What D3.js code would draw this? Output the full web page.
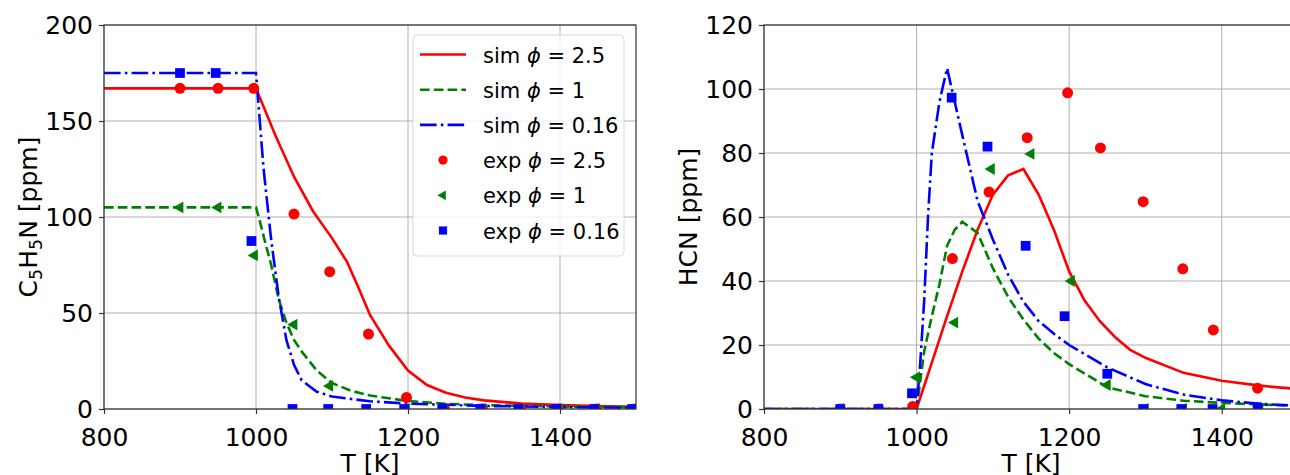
<!DOCTYPE html>
<html>
<head>
<meta charset="utf-8">
<script src="https://d3js.org/d3.v7.min.js"></script>
<style>
  body { margin: 0; background: #fff; }
  svg { font-family: "DejaVu Sans", sans-serif; }
</style>
</head>
<body>
<div id="chart"></div>
<script>
// ---- data: left panel (C5H5N) ----
const c5SimRedT  = [800, 1000, 1025, 1050, 1075, 1100, 1120, 1135, 1150, 1175, 1200, 1225, 1250, 1275, 1300, 1350, 1400, 1450, 1500];
const c5SimRed   = [167, 167, 143, 121, 103, 89, 76.5, 63, 49, 33, 20, 12.5, 8.5, 6, 4.5, 2.8, 2, 1.5, 1.2];
const c5SimGreenT = [800, 1000, 1005, 1010, 1020, 1030, 1040, 1050, 1060, 1080, 1100, 1125, 1150, 1200, 1250, 1300, 1400, 1500];
const c5SimGreen  = [105, 105, 98, 90, 75, 57, 45, 36, 30, 20, 13.5, 9.5, 7, 4.2, 2.7, 2, 1.3, 1];
const c5SimBlueT = [800, 1000, 1010, 1020, 1030, 1040, 1050, 1060, 1080, 1100, 1150, 1200, 1300, 1400, 1500];
const c5SimBlue  = [175, 175, 125, 88, 58, 36, 23, 15, 9, 6.5, 4, 2.8, 1.6, 1, 0.6];

const c5ExpRedT   = [900, 950, 997, 1050, 1097, 1148, 1198, 1248, 1298, 1348, 1398, 1448, 1498];
const c5ExpRed    = [167, 167, 167, 101.5, 71.5, 39, 6, 0, 0, 0, 0, 0, 0];
const c5ExpGreenT = [900, 950, 998, 1050, 1097, 1198, 1248, 1298, 1348, 1398, 1448, 1498];
const c5ExpGreen  = [105, 105, 80, 44, 12, 0, 0, 0, 0, 0, 0, 0];
const c5ExpBlueT  = [900, 947, 994, 1048, 1095, 1145, 1195, 1245, 1295, 1345, 1395, 1445, 1495];
const c5ExpBlue   = [175, 175, 87.5, 0, 0, 0, 0, 0, 0, 0, 0, 0, 0];

// ---- data: right panel (HCN) ----
const hcnSimRedT = [800, 1000, 1020, 1040, 1060, 1080, 1100, 1120, 1140, 1160, 1180, 1200, 1220, 1240, 1260, 1280, 1300, 1350, 1400, 1450, 1500];
const hcnSimRed  = [0, 0, 14.5, 29, 43, 56, 67, 73, 75, 67, 56, 43, 34, 27.5, 22.5, 18.5, 16, 11.3, 8.8, 7.3, 6.2];
const hcnSimGreenT = [800, 1000, 1005, 1010, 1020, 1030, 1040, 1050, 1060, 1080, 1100, 1120, 1140, 1160, 1180, 1200, 1250, 1300, 1350, 1400, 1450, 1500];
const hcnSimGreen  = [0, 0, 9, 18, 29, 39, 51, 56, 58.5, 55, 44, 35, 28, 22, 17.5, 14, 6.8, 4, 2.6, 1.9, 1.4, 1];
const hcnSimBlueT = [800, 1000, 1005, 1010, 1015, 1020, 1030, 1040, 1050, 1060, 1080, 1100, 1120, 1140, 1160, 1180, 1200, 1250, 1300, 1350, 1400, 1450, 1500];
const hcnSimBlue  = [0, 0, 15, 34, 60, 80, 96, 106.5, 96, 85.5, 65, 53, 42, 33.5, 27.5, 23.5, 20, 13, 7.8, 4.5, 2.7, 1.6, 1];

const hcnExpRedT   = [900, 950, 995, 1047, 1095, 1145, 1198, 1241, 1297, 1349, 1389, 1447];
const hcnExpRed    = [0, 0, 0.8, 47, 67.8, 84.8, 98.8, 81.6, 64.8, 43.8, 24.7, 6.5];
const hcnExpGreenT = [900, 950, 1000, 1050, 1098, 1150, 1203, 1250, 1300, 1350, 1400, 1450];
const hcnExpGreen  = [0, 0, 9.9, 27, 75, 79.7, 40, 7.5, 0, 0, 0, 0];
const hcnExpBlueT  = [900, 950, 994, 1046, 1093, 1143, 1194, 1250, 1297, 1347, 1388, 1447];
const hcnExpBlue   = [0, 0, 4.9, 97.3, 82, 51, 29, 11, 0, 0, 0, 0.5];

const xTicks = [800, 1000, 1200, 1400];
const c5Ticks = [0, 50, 100, 150, 200];
const hcnTicks = [0, 20, 40, 60, 80, 100, 120];
const legendLabels = [["sim", "2.5"], ["sim", "1"], ["sim", "0.16"], ["exp", "2.5"], ["exp", "1"], ["exp", "0.16"]];

const lw = 2.6;
const styles = [
  { color: "#ff0000", dash: null, symbol: d3.symbolCircle, size: 95, rot: 0 },
  { color: "#008000", dash: `${3.7 * lw},${1.6 * lw}`, symbol: d3.symbolTriangle, size: 60, rot: -90 },
  { color: "#0000ff", dash: `${6.4 * lw},${1.6 * lw},${1 * lw},${1.6 * lw}`, symbol: d3.symbolSquare, size: 95, rot: 0 }
];

const fs = 25;
const svg = d3.select("#chart").append("svg")
  .attr("width", 1290).attr("height", 475);

function zip(t, v) { return t.map((d, i) => [d, v[i]]); }

function panel(id, left, right, top, bottom, yMax, yTicks, sims, exps, ylabel, ylabelX) {
  const x = d3.scaleLinear().domain([800, 1500]).range([left, right]);
  const y = d3.scaleLinear().domain([0, yMax]).range([bottom, top]);

  svg.append("clipPath").attr("id", id)
    .append("rect").attr("x", left).attr("y", top)
    .attr("width", right - left).attr("height", bottom - top);

  // grid
  const grid = svg.append("g");
  grid.selectAll(".gx").data(xTicks).enter().append("line")
    .attr("x1", d => x(d)).attr("x2", d => x(d))
    .attr("y1", top).attr("y2", bottom)
    .attr("stroke", "#b0b0b0").attr("stroke-width", 1);
  grid.selectAll(".gy").data(yTicks).enter().append("line")
    .attr("x1", left).attr("x2", right)
    .attr("y1", d => y(d)).attr("y2", d => y(d))
    .attr("stroke", "#b0b0b0").attr("stroke-width", 1);

  const plot = svg.append("g").attr("clip-path", `url(#${id})`);
  const line = d3.line().x(d => x(d[0])).y(d => y(d[1]));

  sims.forEach((s, i) => {
    plot.append("path")
      .datum(s)
      .attr("d", line)
      .attr("fill", "none")
      .attr("stroke", styles[i].color)
      .attr("stroke-width", lw)
      .attr("stroke-dasharray", styles[i].dash);
  });

  exps.forEach((e, i) => {
    const st = styles[i];
    plot.selectAll(null).data(e).enter().append("path")
      .attr("d", d3.symbol().type(st.symbol).size(st.size))
      .attr("transform", d => `translate(${x(d[0])},${y(d[1])}) rotate(${st.rot})`)
      .attr("fill", st.color);
  });

  // frame
  svg.append("rect")
    .attr("x", left).attr("y", top)
    .attr("width", right - left).attr("height", bottom - top)
    .attr("fill", "none").attr("stroke", "#333").attr("stroke-width", 1.2);

  // axes
  const ax = svg.append("g")
    .attr("transform", `translate(0,${bottom})`)
    .call(d3.axisBottom(x).tickValues(xTicks).tickSize(5).tickPadding(14).tickFormat(d3.format("d")));
  const ay = svg.append("g")
    .attr("transform", `translate(${left},0)`)
    .call(d3.axisLeft(y).tickValues(yTicks).tickSize(5).tickPadding(6).tickFormat(d3.format("d")));
  [ax, ay].forEach(a => {
    a.select(".domain").remove();
    a.selectAll(".tick line").attr("stroke", "#333").attr("stroke-width", 1.2);
    a.selectAll("text").attr("font-size", fs).attr("font-family", "DejaVu Sans").attr("fill", "#000");
  });

  // x label
  svg.append("text")
    .attr("x", (left + right) / 2).attr("y", 472)
    .attr("text-anchor", "middle").attr("font-size", fs)
    .text("T [K]");

  // y label
  const yl = svg.append("text")
    .attr("transform", `translate(${ylabelX},${(top + bottom) / 2}) rotate(-90)`)
    .attr("text-anchor", "middle").attr("font-size", fs);
  ylabel(yl);

  return { x, y };
}

panel("clipL", 104, 636, 25, 409, 200, c5Ticks,
  [zip(c5SimRedT, c5SimRed), zip(c5SimGreenT, c5SimGreen), zip(c5SimBlueT, c5SimBlue)],
  [zip(c5ExpRedT, c5ExpRed), zip(c5ExpGreenT, c5ExpGreen), zip(c5ExpBlueT, c5ExpBlue)],
  t => {
    t.append("tspan").text("C");
    t.append("tspan").attr("font-size", fs * 0.7).attr("dy", 5).text("5");
    t.append("tspan").attr("dy", -5).text("H");
    t.append("tspan").attr("font-size", fs * 0.7).attr("dy", 5).text("5");
    t.append("tspan").attr("dy", -5).text("N [ppm]");
  }, 37);

panel("clipR", 764, 1298, 25, 409, 120, hcnTicks,
  [zip(hcnSimRedT, hcnSimRed), zip(hcnSimGreenT, hcnSimGreen), zip(hcnSimBlueT, hcnSimBlue)],
  [zip(hcnExpRedT, hcnExpRed), zip(hcnExpGreenT, hcnExpGreen), zip(hcnExpBlueT, hcnExpBlue)],
  t => t.text("HCN [ppm]"), 697);

// legend (left panel)
const leg = svg.append("g");
leg.append("rect")
  .attr("x", 413).attr("y", 35).attr("width", 211).attr("height", 221)
  .attr("rx", 4).attr("fill", "#fff").attr("fill-opacity", 0.8)
  .attr("stroke", "#d9d9d9").attr("stroke-width", 1);

legendLabels.forEach((lab, i) => {
  const st = styles[i % 3];
  const row = leg.append("g").attr("transform", `translate(0,${54.5 + i * 35.2})`);
  if (i < 3) {
    row.append("line").attr("x1", 420).attr("x2", 466).attr("y1", 0).attr("y2", 0)
      .attr("stroke", st.color).attr("stroke-width", lw).attr("stroke-dasharray", st.dash);
  } else {
    row.append("path")
      .attr("d", d3.symbol().type(st.symbol).size(st.size * 0.7))
      .attr("transform", `translate(443,0) rotate(${st.rot})`)
      .attr("fill", st.color);
  }
  const t = row.append("text").attr("x", 483).attr("y", 8).attr("font-size", 21);
  t.append("tspan").text(lab[0] + " ");
  t.append("tspan").attr("font-style", "italic").text("ϕ");
  t.append("tspan").text(" = " + lab[1]);
});
</script>
</body>
</html>
